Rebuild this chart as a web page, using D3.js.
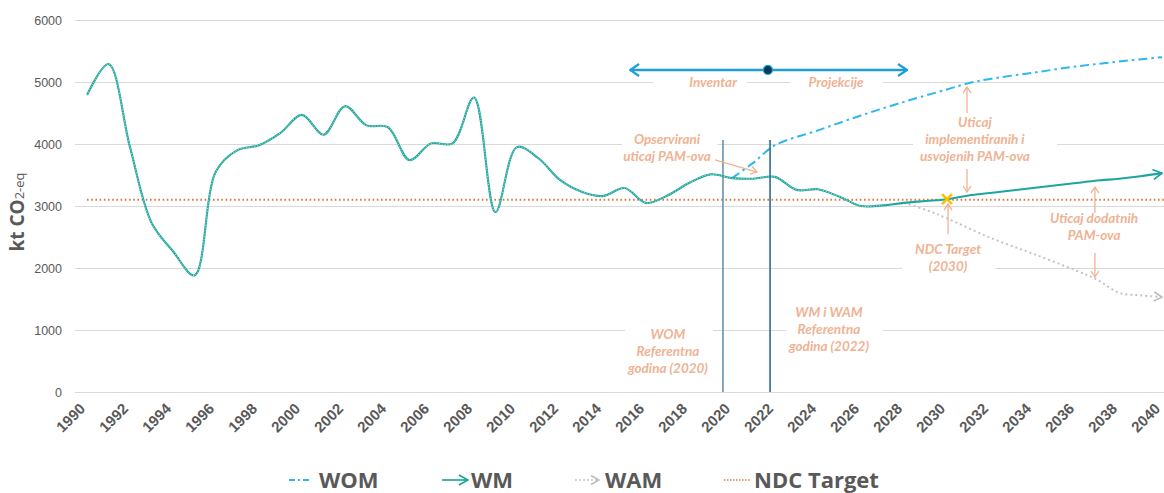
<!DOCTYPE html>
<html>
<head>
<meta charset="utf-8">
<script src="https://cdn.jsdelivr.net/npm/d3@7"></script>
<style>
body { margin: 0; background: #fff; }
</style>
</head>
<body>
<div id="chart"></div>
<script>
// inventory (historic) emissions, kt CO2-eq
var histYears = [1990, 1991, 1992, 1993, 1994, 1995, 1996, 1997, 1998, 1999, 2000, 2001, 2002, 2003, 2004, 2005, 2006, 2007, 2008, 2009, 2010, 2011, 2012, 2013, 2014, 2015, 2016, 2017, 2018, 2019, 2020, 2021, 2022];
var histValues = [4790, 5290, 3950, 2730, 2270, 1880, 3560, 3900, 3980, 4180, 4470, 4150, 4610, 4300, 4270, 3740, 4010, 4010, 4750, 2900, 3950, 3770, 3420, 3230, 3160, 3290, 3050, 3170, 3370, 3510, 3450, 3440, 3470];

// WM projection
var wmYears = [2023, 2024, 2025, 2026, 2027, 2028, 2029, 2030, 2031, 2032, 2033, 2034, 2035, 2036, 2037, 2038, 2039, 2040];
var wmValues = [3260, 3270, 3150, 3000, 3010, 3050, 3080, 3110, 3170, 3210, 3250, 3290, 3330, 3370, 3410, 3440, 3480, 3530];

// WOM projection
var womYears = [2020, 2021, 2022, 2024, 2026, 2028, 2030, 2031, 2032, 2034, 2036, 2038, 2040];
var womValues = [3450, 3700, 3980, 4220, 4460, 4680, 4880, 4980, 5050, 5150, 5250, 5330, 5400];

// WAM projection
var wamYears = [2028, 2029, 2030, 2032, 2034, 2036, 2037, 2038, 2039, 2040];
var wamValues = [3050, 2940, 2800, 2490, 2230, 1960, 1810, 1600, 1560, 1530];

var ndcTarget = 3100;
var ndcYear = 2030;

var yTicks = [0, 1000, 2000, 3000, 4000, 5000, 6000];
var xTicks = [1990, 1992, 1994, 1996, 1998, 2000, 2002, 2004, 2006, 2008, 2010, 2012, 2014, 2016, 2018, 2020, 2022, 2024, 2026, 2028, 2030, 2032, 2034, 2036, 2038, 2040];

var legendNames = ["WOM", "WM", "WAM", "NDC Target"];

var width = 1164, height = 493;
var salmon = "#efb293";

var svg = d3.select("#chart").append("svg")
	.attr("width", width)
	.attr("height", height)
	.style("font-family", "'Open Sans', sans-serif");

var x = d3.scaleLinear().domain([1990, 2040]).range([87, 1162]);
var y = d3.scaleLinear().domain([0, 6000]).range([392, 20]);

// markers
var defs = svg.append("defs");
function chevron(id, color, w, l, sw) {
	defs.append("marker")
		.attr("id", id)
		.attr("markerUnits", "userSpaceOnUse")
		.attr("viewBox", "-1 -1 " + (l + 2) + " " + (w + 2))
		.attr("refX", l).attr("refY", w / 2)
		.attr("markerWidth", l + 2).attr("markerHeight", w + 2)
		.attr("orient", "auto-start-reverse")
		.append("path")
		.attr("d", "M0,0L" + l + "," + (w / 2) + "L0," + w)
		.attr("fill", "none")
		.attr("stroke", color)
		.attr("stroke-width", sw);
}
chevron("arrWM", "#14a39a", 10, 9, 1.6);
chevron("arrWAM", "#bdbdbd", 9, 8, 1.6);
chevron("arrBlue", "#1c9fd8", 12, 9, 2.2);
chevron("arrSalmon", salmon, 8, 6, 1.3);

// y axis with gridlines
var yAxis = svg.append("g")
	.attr("transform", "translate(75,0)")
	.call(d3.axisLeft(y).tickValues(yTicks).tickSize(-(width - 75)).tickPadding(13).tickFormat(d3.format("d")));
yAxis.select(".domain").remove();
yAxis.selectAll(".tick line").attr("stroke", "#d9d9d9");
yAxis.selectAll(".tick text").attr("fill", "#595959").style("font-size", "12.5px");

// x axis
var xAxis = svg.append("g")
	.attr("transform", "translate(0,392)")
	.call(d3.axisBottom(x).tickValues(xTicks).tickSize(0).tickFormat(d3.format("d")));
xAxis.select(".domain").remove();
xAxis.selectAll(".tick text")
	.attr("fill", "#595959")
	.attr("y", 0).attr("dy", "0.35em")
	.attr("text-anchor", "end")
	.attr("transform", "translate(-5,14) rotate(-45)")
	.style("font-size", "15px")
	.style("font-weight", "700");

// axis title
var title = svg.append("text")
	.attr("transform", "translate(24,212) rotate(-90)")
	.attr("text-anchor", "middle")
	.attr("fill", "#595959");
title.append("tspan").text("kt CO").style("font-size", "19px").style("font-weight", "700");
title.append("tspan").text("2-eq").style("font-size", "13px");

// annotation boxes and texts
var notes = [
	{lines: ["Inventar"], year: 2019.12, value: 5000, box: [2016.33, 2020.7]},
	{lines: ["Projekcije"], year: 2024.84, value: 5000, box: [2022.7, 2027.02]},
	{lines: ["Opservirani", "uticaj PAM-ova"], year: 2016.98, value: 3935, box: [2014.88, 2019.3]},
	{lines: ["Uticaj", "implementiranih i", "usvojenih PAM-ova"], year: 2031.3, value: 4081, box: [2028.42, 2035.12]},
	{lines: ["NDC Target", "(2030)"], year: 2030.05, value: 2161, box: [2027.91, 2032.23]},
	{lines: ["Uticaj dodatnih", "PAM-ova"], year: 2036.84, value: 2661, box: null},
	{lines: ["WOM", "Referentna", "godina (2020)"], year: 2017.02, value: 661, box: [2015.02, 2019.12]},
	{lines: ["WM  i WAM", "Referentna", "godina (2022)"], year: 2024.51, value: 1016, box: [2022.53, 2027.02]}
];
var lineH = 17;

var boxes = svg.append("g");
notes.forEach(function (n) {
	if (!n.box) return;
	var h = n.lines.length * lineH + 6;
	boxes.append("rect")
		.attr("x", x(n.box[0]))
		.attr("width", x(n.box[1]) - x(n.box[0]))
		.attr("y", y(n.value) - h / 2)
		.attr("height", h)
		.attr("fill", "#fff");
});

var line = d3.line()
	.x(function (d) { return x(d.year); })
	.y(function (d) { return y(d.value); })
	.curve(d3.curveCatmullRom.alpha(0.5));

function zip(ys, vs) {
	return ys.map(function (yr, i) { return {year: yr, value: vs[i]}; });
}
var mainData = zip(histYears.concat(wmYears), histValues.concat(wmValues));
var womData = zip(womYears, womValues);
var wamData = zip(wamYears, wamValues);

// NDC target line
svg.append("line")
	.attr("x1", x(1990)).attr("x2", width)
	.attr("y1", y(ndcTarget)).attr("y2", y(ndcTarget))
	.attr("stroke", "#e0773a")
	.attr("stroke-width", 2)
	.attr("stroke-dasharray", "1.6 2.6");

// WAM
svg.append("path")
	.attr("d", line(wamData))
	.attr("fill", "none")
	.attr("stroke", "#c4c4c4")
	.attr("stroke-width", 2)
	.attr("stroke-dasharray", "2 3")
	.attr("marker-end", "url(#arrWAM)");

// WOM
svg.append("path")
	.attr("d", line(womData))
	.attr("fill", "none")
	.attr("stroke", "#2db7ee")
	.attr("stroke-width", 2)
	.attr("stroke-dasharray", "9 4 2.5 4");

// inventory + WM
svg.append("path")
	.attr("d", line(mainData))
	.attr("fill", "none")
	.attr("stroke", "#1ea69d")
	.attr("stroke-width", 2.1)
	.attr("marker-end", "url(#arrWM)");

defs.append("clipPath").attr("id", "invClip")
	.append("rect")
	.attr("x", 0).attr("y", 0)
	.attr("width", x(2027)).attr("height", height);

svg.append("path")
	.attr("d", line(mainData))
	.attr("clip-path", "url(#invClip)")
	.attr("fill", "none")
	.attr("stroke", "#b6e3de")
	.attr("stroke-width", 0.9)
	.attr("stroke-dasharray", "1.2 1.6");

// reference year lines
var refLines = [{year: 2019.58, color: "#5d8ca5"}, {year: 2021.77, color: "#1d6189"}];
svg.selectAll(".refline")
	.data(refLines)
	.enter().append("line")
	.attr("class", "refline")
	.attr("x1", function (d) { return x(d.year); })
	.attr("x2", function (d) { return x(d.year); })
	.attr("y1", y(0)).attr("y2", y(4065))
	.attr("stroke", function (d) { return d.color; })
	.attr("stroke-width", 1.5);

// top inventar / projekcije arrow
svg.append("line")
	.attr("x1", x(2015.26)).attr("x2", x(2028.14))
	.attr("y1", y(5194)).attr("y2", y(5194))
	.attr("stroke", "#1c9fd8")
	.attr("stroke-width", 2.5)
	.attr("marker-start", "url(#arrBlue)")
	.attr("marker-end", "url(#arrBlue)");
svg.append("circle")
	.attr("cx", x(2021.67)).attr("cy", y(5194))
	.attr("r", 4.5)
	.attr("fill", "#0d3b54")
	.attr("stroke", "#1c9fd8")
	.attr("stroke-width", 1.2);

// annotation texts
notes.forEach(function (n) {
	var top = y(n.value) - (n.lines.length - 1) * lineH / 2;
	var t = svg.append("text")
		.attr("text-anchor", "middle")
		.attr("fill", salmon)
		.style("font-family", "Lato, sans-serif")
		.style("font-style", "italic")
		.style("font-weight", "700")
		.style("font-size", "13.5px");
	n.lines.forEach(function (l, i) {
		t.append("tspan")
			.attr("x", x(n.year))
			.attr("y", top + i * lineH)
			.attr("dy", "0.35em")
			.text(l);
	});
});

// annotation arrows
var arrows = [
	[2019.21, 3742, 2021.16, 3548],
	[2030.93, 4500, 2030.93, 4919],
	[2030.93, 3597, 2030.93, 3226],
	[2030.05, 2548, 2030.05, 3032],
	[2036.88, 2887, 2036.88, 3306],
	[2036.88, 2242, 2036.88, 1855]
];
svg.selectAll(".note-arrow")
	.data(arrows)
	.enter().append("line")
	.attr("class", "note-arrow")
	.attr("x1", function (d) { return x(d[0]); })
	.attr("y1", function (d) { return y(d[1]); })
	.attr("x2", function (d) { return x(d[2]); })
	.attr("y2", function (d) { return y(d[3]); })
	.attr("stroke", salmon)
	.attr("stroke-width", 1.3)
	.attr("marker-end", "url(#arrSalmon)");

// NDC target marker
var mx = x(ndcYear), my = y(3110);
svg.append("path")
	.attr("d", "M" + (mx - 5) + "," + (my - 5) + "L" + (mx + 5) + "," + (my + 5) + "M" + (mx + 5) + "," + (my - 5) + "L" + (mx - 5) + "," + (my + 5))
	.attr("stroke", "#ffc000")
	.attr("stroke-width", 2.6);

// legend
var legendX = [289, 442, 575, 724];
var legend = svg.selectAll(".legend")
	.data(legendNames)
	.enter().append("g")
	.attr("class", "legend")
	.attr("transform", function (d, i) { return "translate(" + legendX[i] + ",480)"; });

legend.each(function (d, i) {
	var g = d3.select(this);
	var ln = g.append("line").attr("x1", 0).attr("y1", 0).attr("y2", 0).attr("fill", "none");
	if (i == 0) ln.attr("x2", 23).attr("stroke", "#2db7ee").attr("stroke-width", 2).attr("stroke-dasharray", "6 3 2 3");
	if (i == 1) ln.attr("x2", 26).attr("stroke", "#14a39a").attr("stroke-width", 1.6).attr("marker-end", "url(#arrWM)");
	if (i == 2) ln.attr("x2", 24).attr("stroke", "#c4c4c4").attr("stroke-width", 1.6).attr("stroke-dasharray", "2 2").attr("marker-end", "url(#arrWAM)");
	if (i == 3) ln.attr("x2", 27).attr("stroke", "#e0773a").attr("stroke-width", 1.6).attr("stroke-dasharray", "1.5 1.5");
	g.append("text")
		.attr("x", [30, 29, 30, 30][i])
		.attr("y", 8)
		.attr("fill", "#595959")
		.style("font-size", "22px")
		.style("font-weight", "700")
		.text(d);
});
</script>
</body>
</html>
